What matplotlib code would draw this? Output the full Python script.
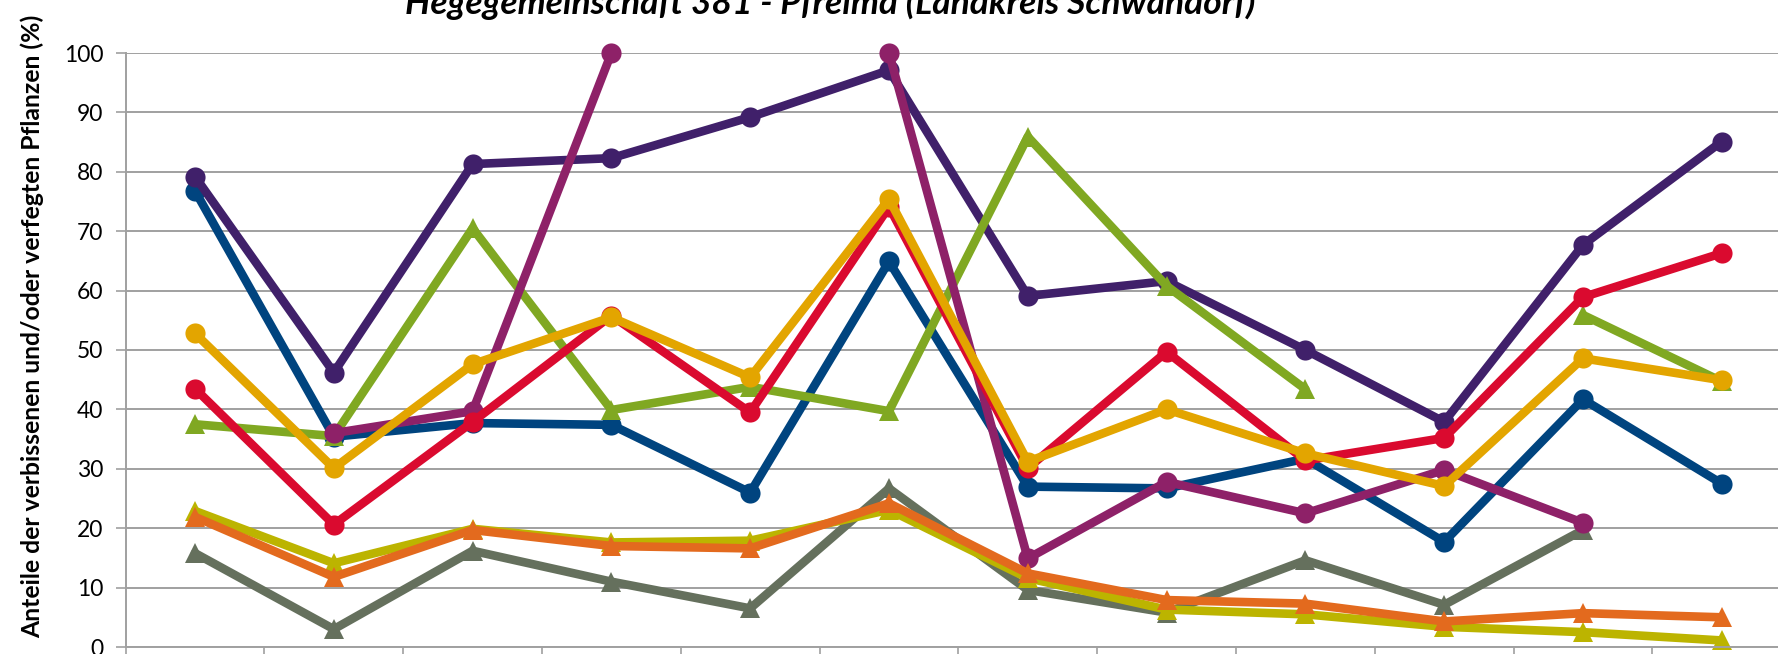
import numpy as np
import matplotlib
matplotlib.use('Agg')
import matplotlib.pyplot as plt

nan = np.nan
# 12 Aufnahmen (x labels are cut off in the reference)
cats = list(range(12))

purple = [79.2, 46.2, 81.3, 82.3, 89.2, 97.1, 59.1, 61.6, 50.0, 37.9, 67.7, 85.1]
blue = [76.8, 35.4, 37.7, 37.4, 26.0, 64.9, 27.0, 26.7, 31.7, 17.7, 41.7, 27.5]
red = [43.5, 20.6, 37.9, 55.8, 39.5, 74.1, 30.1, 49.7, 31.4, 35.2, 58.9, 66.3]
yellow = [52.8, 30.1, 47.6, 55.5, 45.4, 75.4, 31.2, 40.0, 32.6, 27.1, 48.6, 44.9]
magenta = [nan, 36.0, 39.7, 100.0, nan, 100.0, 14.9, 27.8, 22.5, 29.8, 20.9, nan]
green = [37.5, 35.5, 70.5, 39.9, 43.8, 39.7, 85.9, 60.8, 43.4, nan, 55.9, 44.7]
gray = [15.8, 3.0, 16.2, 11.0, 6.5, 26.7, 9.6, 5.8, 14.6, 7.1, 19.7, nan]
orange = [21.9, 11.8, 19.7, 17.0, 16.6, 24.2, 12.4, 7.9, 7.3, 4.3, 5.7, 5.0]
olive = [22.9, 14.1, 19.9, 17.6, 17.9, 23.1, 11.6, 6.3, 5.5, 3.4, 2.5, 1.1]

# drawing order = Excel series order (bottom to top)
series = [
    (blue, '#00447F', 'o'),
    (purple, '#40206A', 'o'),
    (green, '#80A822', '^'),
    (gray, '#65705D', '^'),
    (magenta, '#8E2168', 'o'),
    (red, '#DA0A2F', 'o'),
    (olive, '#BCB400', '^'),
    (orange, '#E36A1E', '^'),
    (yellow, '#E3A500', 'o'),
]

plt.rcParams['font.family'] = ['Lato', 'DejaVu Sans']

fig = plt.figure(figsize=(17.78, 6.54), dpi=100)
ax = fig.add_axes([125.6 / 1778, 7 / 654, 12 * 138.8 / 1778, 594 / 654])

for vals, col, mk in series:
    ms = 14.5 if mk == 'o' else 15
    ax.plot(cats, vals, color=col, lw=6.2, marker=mk, ms=ms,
            markeredgewidth=0, solid_capstyle='round', solid_joinstyle='round',
            clip_on=False)

ax.set_xlim(-0.5, 11.5)
ax.set_ylim(0, 100)
ax.set_yticks(range(0, 101, 10))
ax.yaxis.grid(True, color='#A0A0A0', lw=1.4)
ax.set_axisbelow(True)
for s in ['top', 'right']:
    ax.spines[s].set_visible(False)
ax.spines['left'].set_color('#A0A0A0')
ax.spines['bottom'].set_color('#A0A0A0')
ax.spines['left'].set_linewidth(1.4)
ax.spines['bottom'].set_linewidth(1.4)

ax.set_xticks(np.arange(-0.5, 12, 1))
ax.set_xticklabels([])
ax.tick_params(axis='x', length=12, width=1.2, color='#A0A0A0')
ax.tick_params(axis='y', length=7, width=1.2, color='#A0A0A0', labelsize=16.5, pad=9,
               labelcolor='black')

fig.text(32 / 1778, 1 - 326 / 654, 'Anteile der verbissenen und/oder verfegten Pflanzen (%)',
         rotation=90, ha='center', va='center', fontsize=17.8, fontweight='bold')
fig.text(830 / 1778, 1 - 14 / 654, 'Hegegemeinschaft 381 - Pfreimd (Landkreis Schwandorf)',
         ha='center', va='baseline', fontsize=25.5, fontweight='bold', fontstyle='italic')

fig.savefig('out.png', dpi=100)
